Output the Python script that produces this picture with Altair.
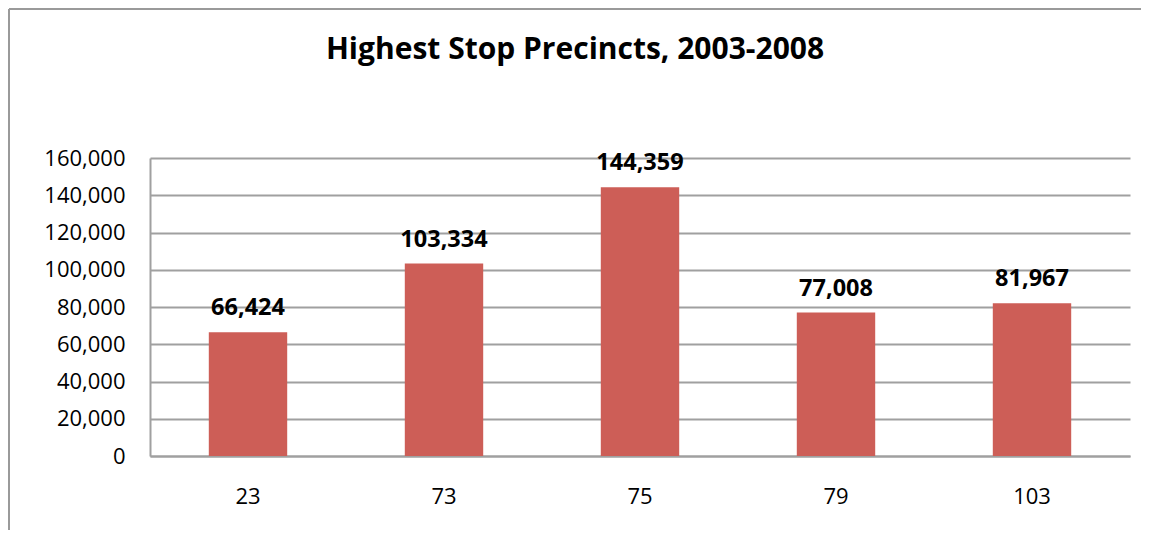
import altair as alt
import pandas as pd

precincts = ["23", "73", "75", "79", "103"]
stops = [66424, 103334, 144359, 77008, 81967]
y_ticks = [0, 20000, 40000, 60000, 80000, 100000, 120000, 140000, 160000]
title_text = "Highest Stop Precincts, 2003-2008"

df = pd.DataFrame({"precinct": precincts, "stops": stops})
df["label"] = [f"{v:,}" for v in stops]

FONT = "Open Sans"
GRID = "#a0a0a0"

x_enc = alt.X(
    "precinct:N",
    sort=precincts,
    scale=alt.Scale(paddingInner=0.6, paddingOuter=0.3),
    axis=alt.Axis(
        title=None, labelAngle=0, ticks=False, domain=True, domainColor=GRID,
        domainWidth=2, labelFont=FONT, labelFontSize=22, labelColor="#000000",
        labelPadding=30, grid=False,
    ),
)
y_enc = alt.Y(
    "stops:Q",
    scale=alt.Scale(domain=[0, 160000], nice=False),
    axis=alt.Axis(
        title=None, values=y_ticks, format=",d", ticks=False, domain=True,
        domainColor=GRID, domainWidth=2, grid=True, gridColor=GRID,
        gridWidth=2, labelFont=FONT, labelFontSize=22, labelColor="#000000",
        labelPadding=25, labelOverlap=False,
    ),
)

base = alt.Chart(df)
bars = base.mark_bar(color="#CD5E57").encode(x=x_enc, y=y_enc)
labels = base.mark_text(
    font=FONT, fontSize=23.5, fontWeight="bold", color="#000000",
    baseline="alphabetic", dy=-17,
).encode(x=x_enc, y=y_enc, text="label:N")

one = pd.DataFrame({"a": [0]})
frame_left = alt.Chart(one).mark_rule(
    color="#9a9a9a", strokeWidth=2, clip=False
).encode(x=alt.value(-141), y=alt.value(-149), y2=alt.value(372))
frame_top = alt.Chart(one).mark_rule(
    color="#9a9a9a", strokeWidth=2, clip=False
).encode(x=alt.value(-141), x2=alt.value(991), y=alt.value(-149))

chart = alt.layer(bars, labels, frame_left, frame_top).properties(
    width=980,
    height=298,
    padding={"left": 142, "top": 150, "right": 11, "bottom": 74},
    autosize=alt.AutoSizeParams(type="none"),
    background="transparent",
    title=alt.TitleParams(
        title_text, font=FONT, fontSize=30, fontWeight="bold", color="#000000",
        anchor="middle", frame="group", dx=-65, offset=-81, baseline="alphabetic",
    ),
).configure_view(stroke=None).configure_axis(labelOverlap=False)

chart.save("out.html", embed_options={"renderer": "svg", "actions": False})
